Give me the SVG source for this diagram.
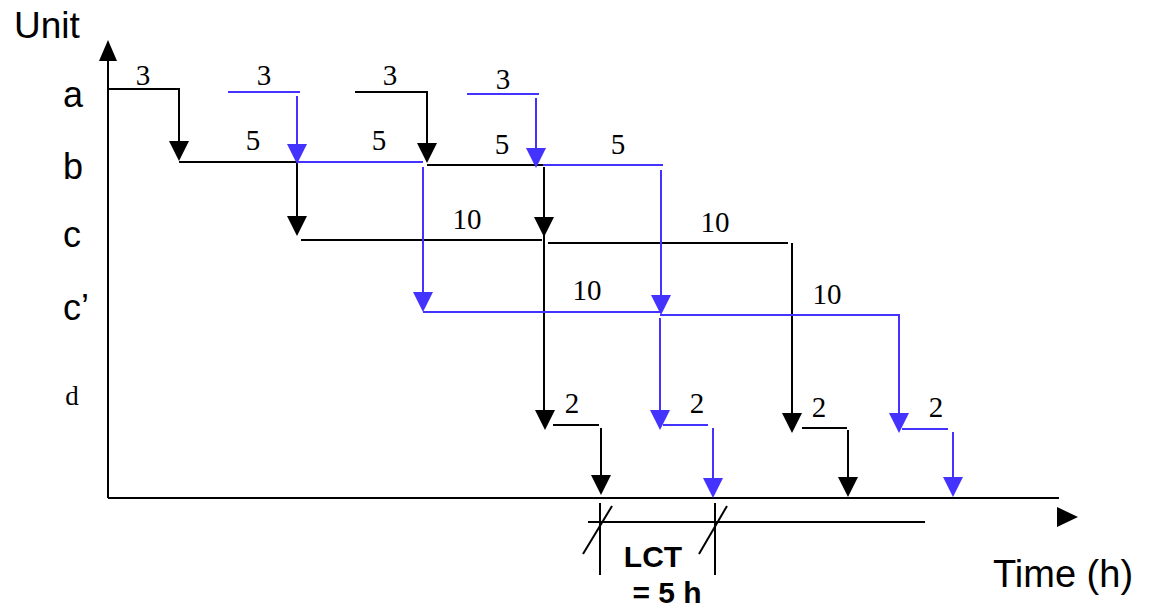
<svg xmlns="http://www.w3.org/2000/svg" xmlns:xlink="http://www.w3.org/1999/xlink" width="1149" height="608" viewBox="0 0 1149 608">
<style>
.k{stroke:#000;stroke-width:2;fill:none}
.u{stroke:#4433FF;stroke-width:2;fill:none}
.hk{fill:#000}
.hu{fill:#4433FF}
.lab{font-family:"Liberation Sans",Arial,sans-serif;font-size:36px;fill:#000}
.num{font-family:"Liberation Serif","Times New Roman",serif;font-size:29px;fill:#000;text-anchor:middle}
.lct{font-family:"Liberation Sans",Arial,sans-serif;font-size:30px;font-weight:bold;fill:#000;text-anchor:middle}
</style>
<defs>
<path id="ah" d="M-10,-20 L10,-20 L0,0 Z"/>
</defs>
<rect width="1149" height="608" fill="#fff"/>
<g id="axes">
<line class="k" x1="108" y1="498" x2="108" y2="58"/>
<path class="hk" d="M108,40 L99,61 L117,61 Z"/>
<line class="k" x1="108" y1="498" x2="1059" y2="498"/>
<path class="hk" d="M1057,507 L1078,517 L1057,527 Z"/>
<text class="lab" x="14" y="38" style="font-size:37px">Unit</text>
<text class="lab" x="993" y="587" style="font-size:38px">Time (h)</text>
</g>
<g id="units">
<text class="lab" x="63" y="107">a</text>
<text class="lab" x="63" y="179">b</text>
<text class="lab" x="63" y="247">c</text>
<text class="lab" x="63" y="320">c’</text>
<text class="num" x="72" y="405" style="font-size:27px">d</text>
</g>
<g id="connectors">
<polyline class="k" points="108,89 179,89 179,145"/>
<use xlink:href="#ah" class="hk" x="179" y="161"/>
<line class="k" x1="179" y1="162" x2="297" y2="162"/>
<line class="k" x1="297" y1="162" x2="297" y2="220"/>
<use xlink:href="#ah" class="hk" x="297" y="236"/>
<line class="k" x1="301" y1="240" x2="542" y2="240"/>
<polyline class="k" points="355,92 427,92 427,148"/>
<use xlink:href="#ah" class="hk" x="427" y="163"/>
<line class="k" x1="427" y1="165" x2="543" y2="165"/>
<line class="k" x1="544" y1="167" x2="544" y2="414"/>
<use xlink:href="#ah" class="hk" x="544" y="237"/>
<use xlink:href="#ah" class="hk" x="545" y="430"/>
<line class="k" x1="548" y1="243" x2="788" y2="243"/>
<line class="k" x1="792" y1="243" x2="792" y2="416"/>
<use xlink:href="#ah" class="hk" x="792" y="433"/>
<line class="k" x1="553" y1="425" x2="599" y2="425"/>
<line class="k" x1="601" y1="428" x2="601" y2="478"/>
<use xlink:href="#ah" class="hk" x="601" y="495"/>
<line class="k" x1="802" y1="428" x2="847" y2="428"/>
<line class="k" x1="848" y1="430" x2="848" y2="480"/>
<use xlink:href="#ah" class="hk" x="848" y="497"/>
<line class="u" x1="228" y1="92" x2="300" y2="92"/>
<line class="u" x1="297" y1="96" x2="297" y2="148"/>
<use xlink:href="#ah" class="hu" x="297" y="164"/>
<line class="u" x1="297" y1="162" x2="423" y2="162"/>
<line class="u" x1="423" y1="167" x2="423" y2="296"/>
<use xlink:href="#ah" class="hu" x="423" y="312"/>
<line class="u" x1="423" y1="312" x2="660" y2="312"/>
<polyline class="u" points="660,315 899,315 899,416"/>
<use xlink:href="#ah" class="hu" x="899" y="433"/>
<line class="u" x1="467" y1="94" x2="539" y2="94"/>
<line class="u" x1="536" y1="98" x2="536" y2="152"/>
<use xlink:href="#ah" class="hu" x="536" y="168"/>
<line class="u" x1="543" y1="165" x2="663" y2="165"/>
<line class="u" x1="661" y1="170" x2="661" y2="298"/>
<use xlink:href="#ah" class="hu" x="661" y="315"/>
<line class="u" x1="660" y1="318" x2="660" y2="414"/>
<use xlink:href="#ah" class="hu" x="660" y="430"/>
<line class="u" x1="663" y1="425" x2="708" y2="425"/>
<line class="u" x1="713" y1="428" x2="713" y2="481"/>
<use xlink:href="#ah" class="hu" x="713" y="498"/>
<line class="u" x1="902" y1="429" x2="948" y2="429"/>
<line class="u" x1="953" y1="432" x2="953" y2="480"/>
<use xlink:href="#ah" class="hu" x="953" y="497"/>
</g>
<g id="durations">
<text class="num" x="143" y="85">3</text>
<text class="num" x="264" y="85">3</text>
<text class="num" x="390" y="85">3</text>
<text class="num" x="503" y="89">3</text>
<text class="num" x="253" y="150">5</text>
<text class="num" x="379" y="150">5</text>
<text class="num" x="502" y="154">5</text>
<text class="num" x="618" y="154">5</text>
<text class="num" x="467" y="229">10</text>
<text class="num" x="715" y="232">10</text>
<text class="num" x="587" y="300">10</text>
<text class="num" x="827" y="304">10</text>
<text class="num" x="572" y="413">2</text>
<text class="num" x="697" y="413">2</text>
<text class="num" x="819" y="417">2</text>
<text class="num" x="936" y="417">2</text>
</g>
<g id="lct">
<line class="k" x1="588" y1="522" x2="925" y2="522"/>
<line class="k" x1="600" y1="503" x2="600" y2="575"/>
<line class="k" x1="715" y1="503" x2="715" y2="575"/>
<line class="k" x1="612" y1="506" x2="583" y2="554"/>
<line class="k" x1="727" y1="506" x2="699" y2="554"/>
<text class="lct" x="653" y="567">LCT</text>
<text class="lct" x="667" y="603">= 5 h</text>
</g>
</svg>
